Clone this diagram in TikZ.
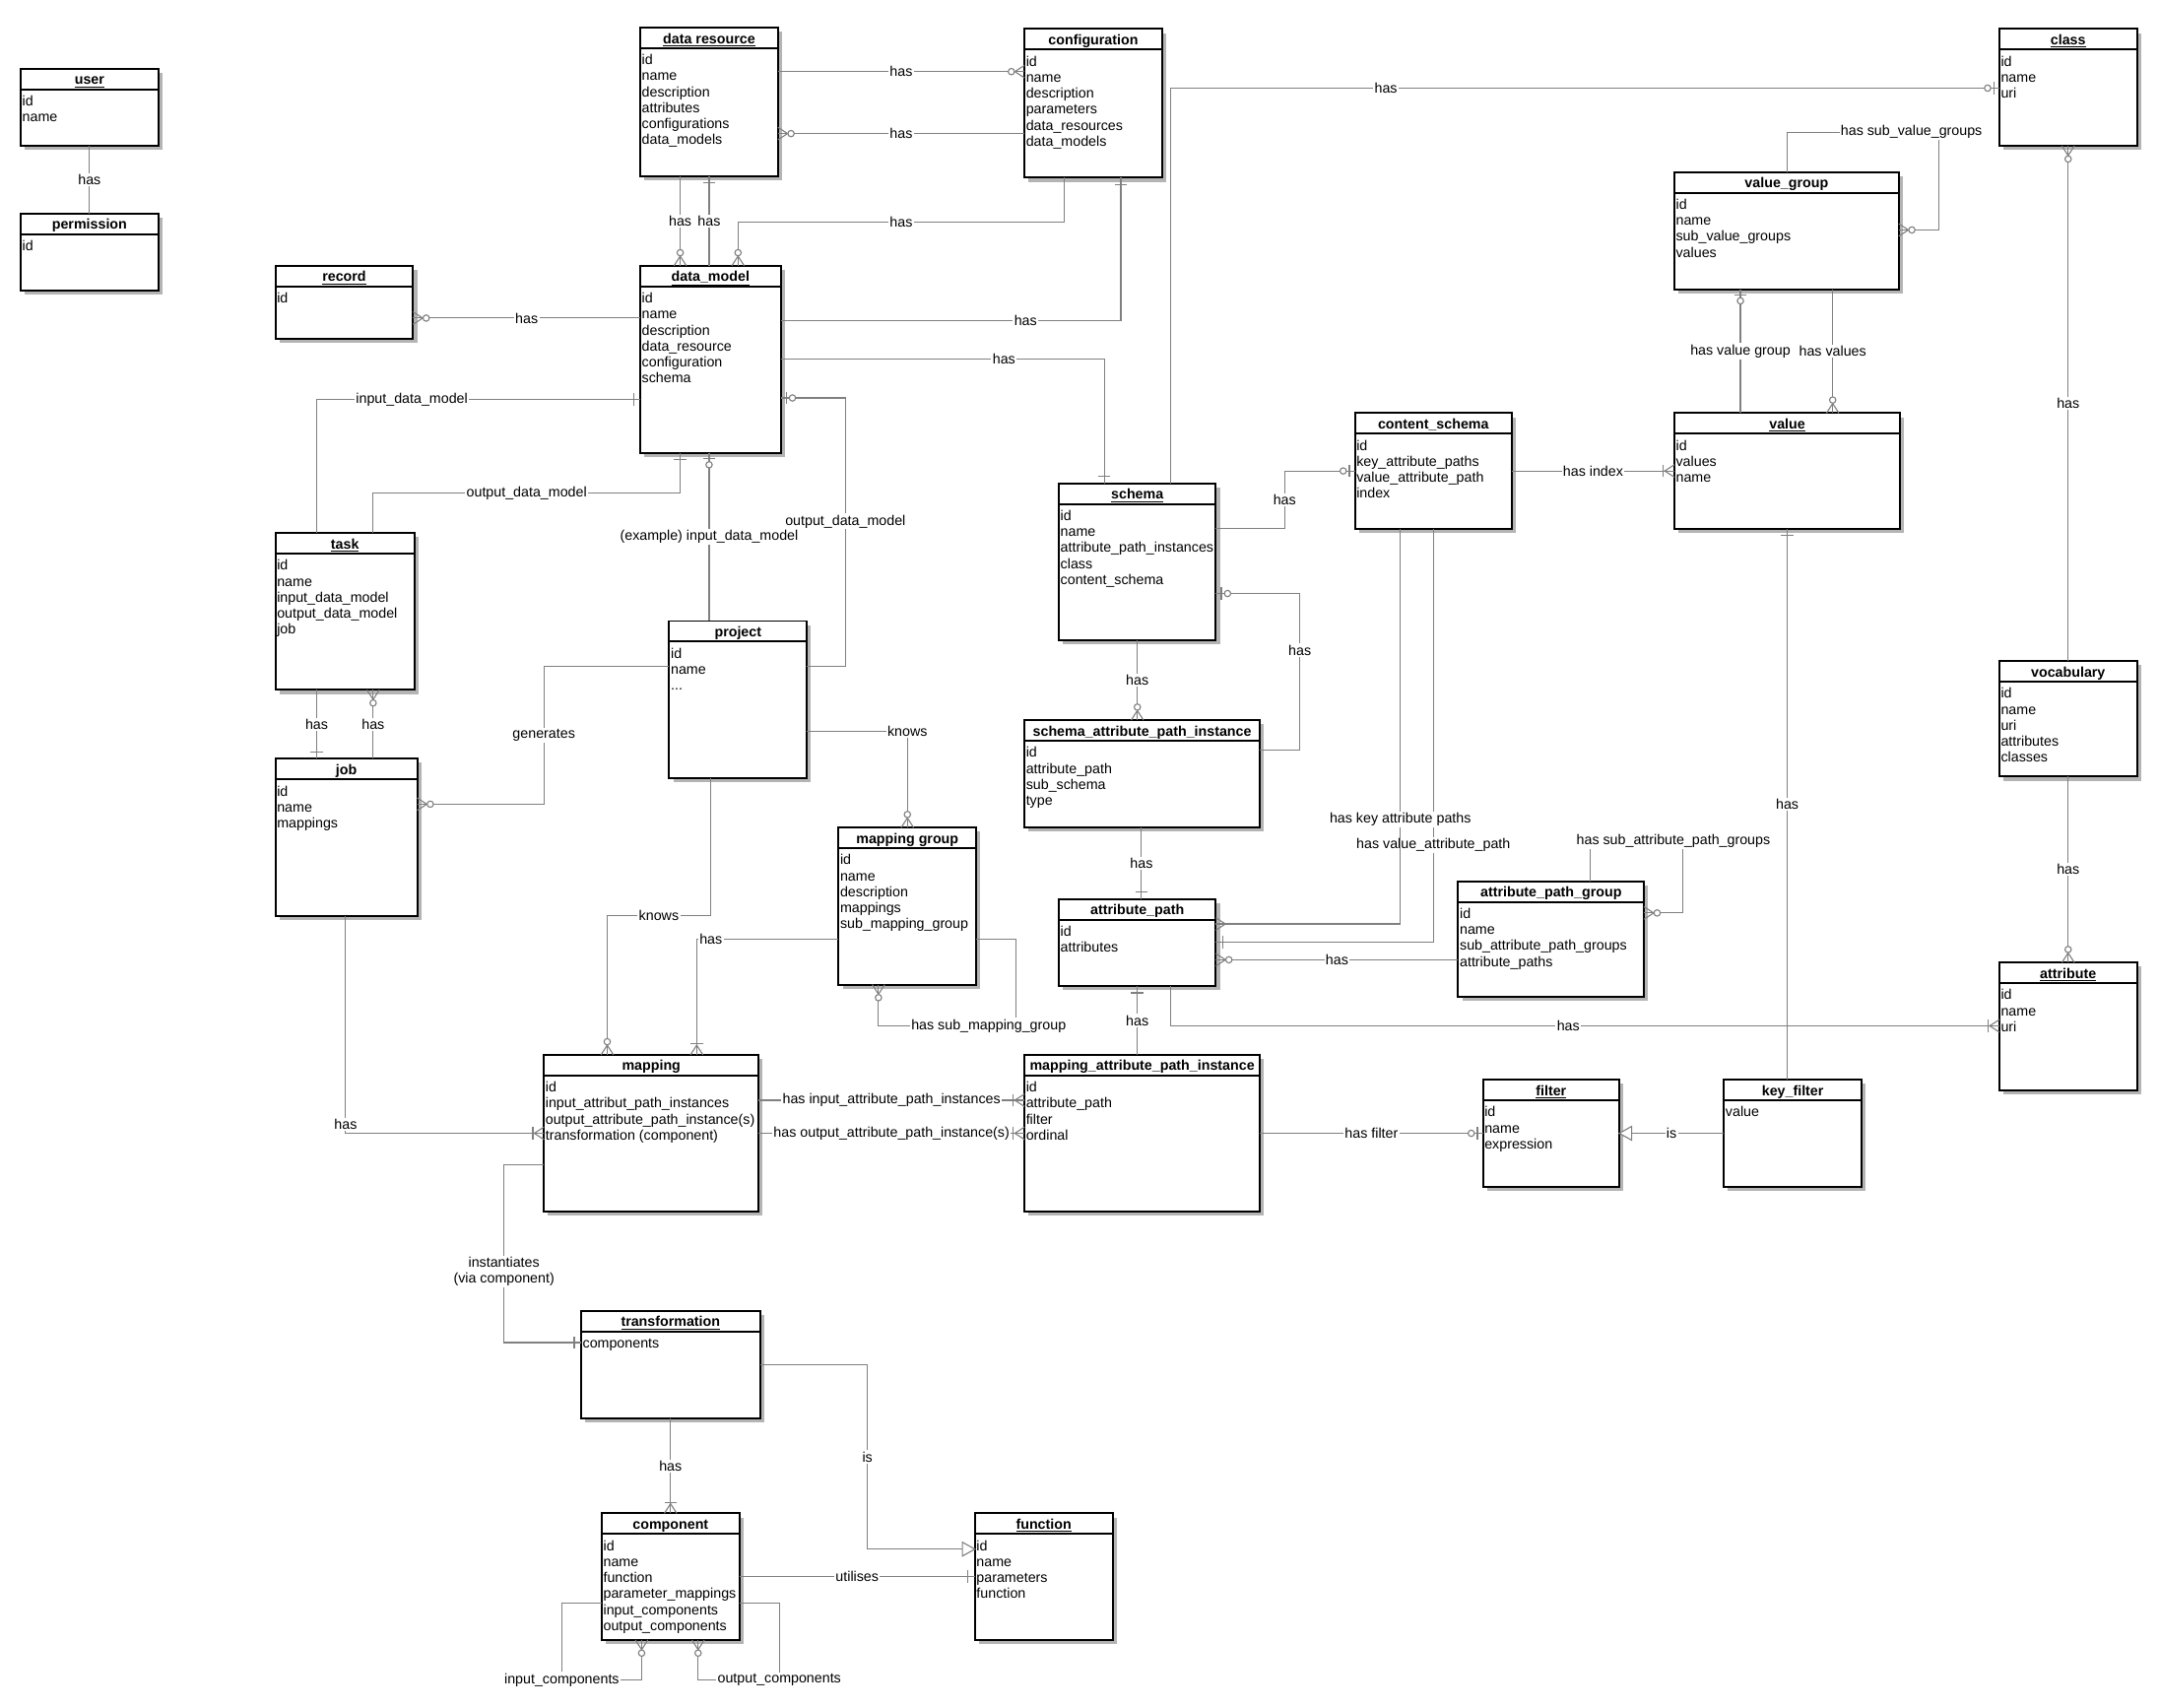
\documentclass[tikz,border=0pt]{standalone}
\usepackage{fontspec}
\setmainfont{Liberation Sans}
\usepackage{tikz}
\usetikzlibrary{calc,shadows,decorations.markings}

\definecolor{linegray}{RGB}{128,128,128}
\definecolor{shadowgray}{RGB}{180,180,180}
\newcommand\erfont{\fontsize{10.2}{11.6}\selectfont}

\newcommand\mkone{\draw[mkline] (-5pt,-4.5pt) -- (-5pt,4.5pt);}
\newcommand\mkzone{\draw[mkline] (-4pt,-4.5pt) -- (-4pt,4.5pt);
  \draw[mkline, fill=white] (-8.5pt,0pt) circle (2.3pt);}
\newcommand\mkmany{\draw[mkline] (0pt,-4.5pt) -- (-7pt,0pt) -- (0pt,4.5pt);}
\newcommand\mkzmany{\mkmany\draw[mkline, fill=white] (-9.5pt,0pt) circle (2.3pt);}
\newcommand\mkomany{\mkmany\draw[mkline] (-8pt,-4.5pt) -- (-8pt,4.5pt);}
\newcommand\mkisa{\draw[mkline, fill=white] (0pt,0pt) -- (-9pt,-5pt) -- (-9pt,5pt) -- cycle;}

\newcommand\erbox[7]{%
  \node[entity, minimum width={#4pt-#2pt}, minimum height={#5pt-#3pt}] (#1) at ({(#2+#4)/2},{(#3+#5)/2}) {};
  \draw[hdrline] ([yshift=-15pt]#1.north west) -- ([yshift=-15pt]#1.north east);
  \node[etitle] (#1-title) at ([yshift=-11.5pt]#1.north) {\underline{#6}};
  \node[efield] (#1-fields) at ([yshift=-17.7pt]#1.north west) {\strut #7};
}

\begin{document}
\begin{tikzpicture}[
  x=1pt, y=-1pt, font=\erfont,
  entity/.style={draw, line width=1.4pt, fill=white, inner sep=0pt, outer sep=0pt,
                 drop shadow={shadow xshift=3pt, shadow yshift=-3pt, fill=shadowgray, opacity=1}},
  hdrline/.style={line width=1.4pt},
  etitle/.style={anchor=base, inner sep=0pt, font=\erfont\bfseries},
  efield/.style={anchor=north west, align=left, inner sep=1pt, font=\erfont},
  conn/.style={draw=linegray, line width=0.8pt},
  lbl/.style={fill=white, inner sep=1pt, font=\erfont},
  mkline/.style={draw=linegray, line width=0.8pt, solid},
  er end/.style={postaction={decorate, decoration={markings, mark=at position 1 with {#1}}}},
  m one/.style={er end=\mkone},
  m zone/.style={er end=\mkzone},
  m many/.style={er end=\mkmany},
  m zmany/.style={er end=\mkzmany},
  m omany/.style={er end=\mkomany},
  m isa/.style={er end=\mkisa},
]
\useasboundingbox (0,0) rectangle (1568,1240);

\erbox{user}{15}{50}{115}{106}{user}{id\\name}
\erbox{perm}{15}{155}{115}{211}{permission}{id}
\erbox{record}{200}{193}{300}{246}{record}{id}
\erbox{dres}{465}{20}{565}{128}{data resource}{id\\name\\description\\attributes\\configurations\\data\_models}
\erbox{config}{744}{21}{844}{129}{configuration}{id\\name\\description\\parameters\\data\_resources\\data\_models}
\erbox{class}{1452}{21}{1552}{106}{class}{id\\name\\uri}
\erbox{vgroup}{1216}{125}{1379}{210}{value\_group}{id\\name\\sub\_value\_groups\\values}
\erbox{dmodel}{465}{193}{567}{329}{data\_model}{id\\name\\description\\data\_resource\\configuration\\schema}
\erbox{task}{200}{387}{301}{501}{task}{id\\name\\input\_data\_model\\output\_data\_model\\job}
\erbox{job}{200}{551}{303}{665}{job}{id\\name\\mappings}
\erbox{project}{486}{451}{586}{565}{project}{id\\name\\...}
\erbox{schema}{769}{351}{883}{465}{schema}{id\\name\\attribute\_path\_instances\\class\\content\_schema}
\erbox{cschema}{984}{300}{1098}{384}{content\_schema}{id\\key\_attribute\_paths\\value\_attribute\_path\\index}
\erbox{value}{1216}{300}{1380}{384}{value}{id\\values\\name}
\erbox{sapi}{744}{523}{915}{601}{schema\_attribute\_path\_instance}{id\\attribute\_path\\sub\_schema\\type}
\erbox{mgroup}{609}{601}{709}{715}{mapping group}{id\\name\\description\\mappings\\sub\_mapping\_group}
\erbox{apath}{769}{653}{883}{716}{attribute\_path}{id\\attributes}
\erbox{apgroup}{1059}{640}{1194}{724}{attribute\_path\_group}{id\\name\\sub\_attribute\_path\_groups\\attribute\_paths}
\erbox{vocab}{1452}{480}{1552}{564}{vocabulary}{id\\name\\uri\\attributes\\classes}
\erbox{attr}{1452}{699}{1552}{792}{attribute}{id\\name\\uri}
\erbox{mapping}{395}{766}{551}{880}{mapping}{id\\input\_attribut\_path\_instances\\output\_attribute\_path\_instance(s)\\transformation (component)}
\erbox{mapi}{744}{766}{915}{880}{mapping\_attribute\_path\_instance}{id\\attribute\_path\\filter\\ordinal}
\erbox{filter}{1077}{784}{1176}{862}{filter}{id\\name\\expression}
\erbox{kfilter}{1252}{784}{1352}{862}{key\_filter}{value}
\erbox{transf}{422}{952}{552}{1030}{transformation}{components}
\erbox{comp}{437}{1099}{537}{1191}{component}{id\\name\\function\\parameter\_mappings\\input\_components\\output\_components}
\erbox{func}{708}{1099}{808}{1191}{function}{id\\name\\parameters\\function}

\draw[conn] (user) -- node[lbl]{has} (perm);
\draw[conn, m zmany] (dres.east |- 0,52) -- node[lbl]{has} (config.west |- 0,52);
\draw[conn, m zmany] (config.west |- 0,97) -- node[lbl]{has} (dres.east |- 0,97);
\draw[conn, m zmany] (dres.south -| 494,0) -- node[lbl]{has} (dmodel.north -| 494,0);
\draw[conn, m one] (dmodel.north -| 515,0) -- node[lbl]{has} (dres.south -| 515,0);
\draw[conn, m zmany] (config.south -| 773,0) |- node[lbl, pos=0.75]{has} (536,161) -- (dmodel.north -| 536,0);
\draw[conn, m one] (dmodel.east |- 0,233) -| node[lbl, pos=0.36]{has} (config.south -| 814,0);
\draw[conn, m one] (dmodel.east |- 0,261) -| node[lbl, pos=0.345]{has} (schema.north -| 802,0);
\draw[conn, m zmany] (dmodel.west |- 0,231) -- node[lbl]{has} (record.east |- 0,231);
\draw[conn, m one] (task.north -| 230,0) |- node[lbl, pos=0.647]{input\_data\_model} (dmodel.west |- 0,290);
\draw[conn, m one] (task.north -| 271,0) |- node[lbl, pos=0.75]{output\_data\_model} (494,358) -- (dmodel.south -| 494,0);
\draw[conn, m zone] (project.north -| 515,0) -- node[lbl]{(example) input\_data\_model} (dmodel.south -| 515,0);
\draw[conn, m zone] (project.east |- 0,484) -| node[lbl, pos=0.77]{output\_data\_model} (614,289) -- (dmodel.east |- 0,289);
\draw[conn, m one] (task.south -| 230,0) -- node[lbl]{has} (job.north -| 230,0);
\draw[conn, m zmany] (job.north -| 271,0) -- node[lbl]{has} (task.south -| 271,0);
\draw[conn, m zmany] (project.west |- 0,484) -| node[lbl, pos=0.75]{generates} (395,584) -- (job.east |- 0,584);
\draw[conn, m zmany] (project.east |- 0,531) -| node[lbl]{knows} (mgroup.north -| 659,0);
\draw[conn, m zmany] (project.south -| 516,0) |- node[lbl, pos=0.75]{knows} (441,665) -- (mapping.north -| 441,0);
\draw[conn, m omany] (mgroup.west |- 0,682) -| node[lbl, pos=0.45]{has} (mapping.north -| 506,0);
\draw[conn, m zmany] (mgroup.east |- 0,682) -| (738,745) -| node[lbl, pos=0.1]{has sub\_mapping\_group} (mgroup.south -| 638,0);
\draw[conn, m omany] (mapping.east |- 0,799) -- node[lbl]{has input\_attribute\_path\_instances} (mapi.west |- 0,799);
\draw[conn, m omany] (mapping.east |- 0,823) -- node[lbl]{has output\_attribute\_path\_instance(s)} (mapi.west |- 0,823);
\draw[conn, m omany] (job.south -| 251,0) |- node[lbl, pos=0.48]{has} (mapping.west |- 0,823);
\draw[conn, m one] (mapping.west |- 0,846) -| node[lbl, pos=0.8, align=center]{instantiates\\(via component)} (366,975) -- (transf.west |- 0,975);
\draw[conn, m one] (sapi.south -| 829,0) -- node[lbl]{has} (apath.north -| 829,0);
\draw[conn, m zmany] (schema.south -| 826,0) -- node[lbl]{has} (sapi.north -| 826,0);
\draw[conn, m zone] (sapi.east |- 0,545) -| node[lbl, pos=0.82]{has} (944,431) -- (schema.east |- 0,431);
\draw[conn, m zone] (schema.east |- 0,384) -| node[lbl, pos=0.75]{has} (933,342) -- (cschema.west |- 0,342);
\draw[conn, m zone] (schema.north -| 850,0) |- node[lbl, pos=0.63]{has} (class.west |- 0,64);
\draw[conn, m omany] (cschema.east |- 0,342) -- node[lbl]{has index} (value.west |- 0,342);
\draw[conn, m one] (cschema.south -| 1041,0) |- node[lbl, pos=0.383]{has value\_attribute\_path} (apath.east |- 0,684);
\draw[conn, m many] (cschema.south -| 1017,0) |- node[lbl, pos=0.368]{has key attribute paths} (apath.east |- 0,671);
\draw[conn, m zmany] (apgroup.west |- 0,697) -- node[lbl]{has} (apath.east |- 0,697);
\draw[conn, m zmany] (apgroup.north -| 1155,0) |- node[lbl, pos=0.95]{has sub\_attribute\_path\_groups} (1222,611) |- (apgroup.east |- 0,663);
\draw[conn, m one] (mapi.north -| 826,0) -- node[lbl]{has} (apath.south -| 826,0);
\draw[conn, m omany] (apath.south -| 850,0) |- node[lbl, pos=0.74]{has} (attr.west |- 0,745);
\draw[conn, m one] (kfilter.north -| 1298,0) -- node[lbl]{has} (value.south -| 1298,0);
\draw[conn, m isa] (kfilter.west |- 0,823) -- node[lbl]{is} (filter.east |- 0,823);
\draw[conn, m zone] (mapi.east |- 0,823) -- node[lbl]{has filter} (filter.west |- 0,823);
\draw[conn, m zmany] (vgroup.north -| 1298,0) |- node[lbl, pos=0.91]{has sub\_value\_groups} (1408,96) |- (vgroup.east |- 0,167);
\draw[conn, m zone] (value.north -| 1264,0) -- node[lbl]{has value group} (vgroup.south -| 1264,0);
\draw[conn, m zmany] (vgroup.south -| 1331,0) -- node[lbl]{has values} (value.north -| 1331,0);
\draw[conn, m zmany] (vocab.north) -- node[lbl]{has} (class.south);
\draw[conn, m zmany] (vocab.south) -- node[lbl]{has} (attr.north);
\draw[conn, m omany] (transf.south -| 487,0) -- node[lbl]{has} (comp.north -| 487,0);
\draw[conn, m isa] (transf.east |- 0,991) -| node[lbl, pos=0.75]{is} (630,1125) -- (func.west |- 0,1125);
\draw[conn, m one] (comp.east |- 0,1145) -- node[lbl]{utilises} (func.west |- 0,1145);
\draw[conn, m zmany] (comp.west |- 0,1164) -| (408,1220) node[lbl]{input\_components} -| (comp.south -| 466,0);
\draw[conn, m zmany] (comp.east |- 0,1164) -| (566,1220) node[lbl]{output\_components} -| (comp.south -| 507,0);
\end{tikzpicture}
\end{document}
